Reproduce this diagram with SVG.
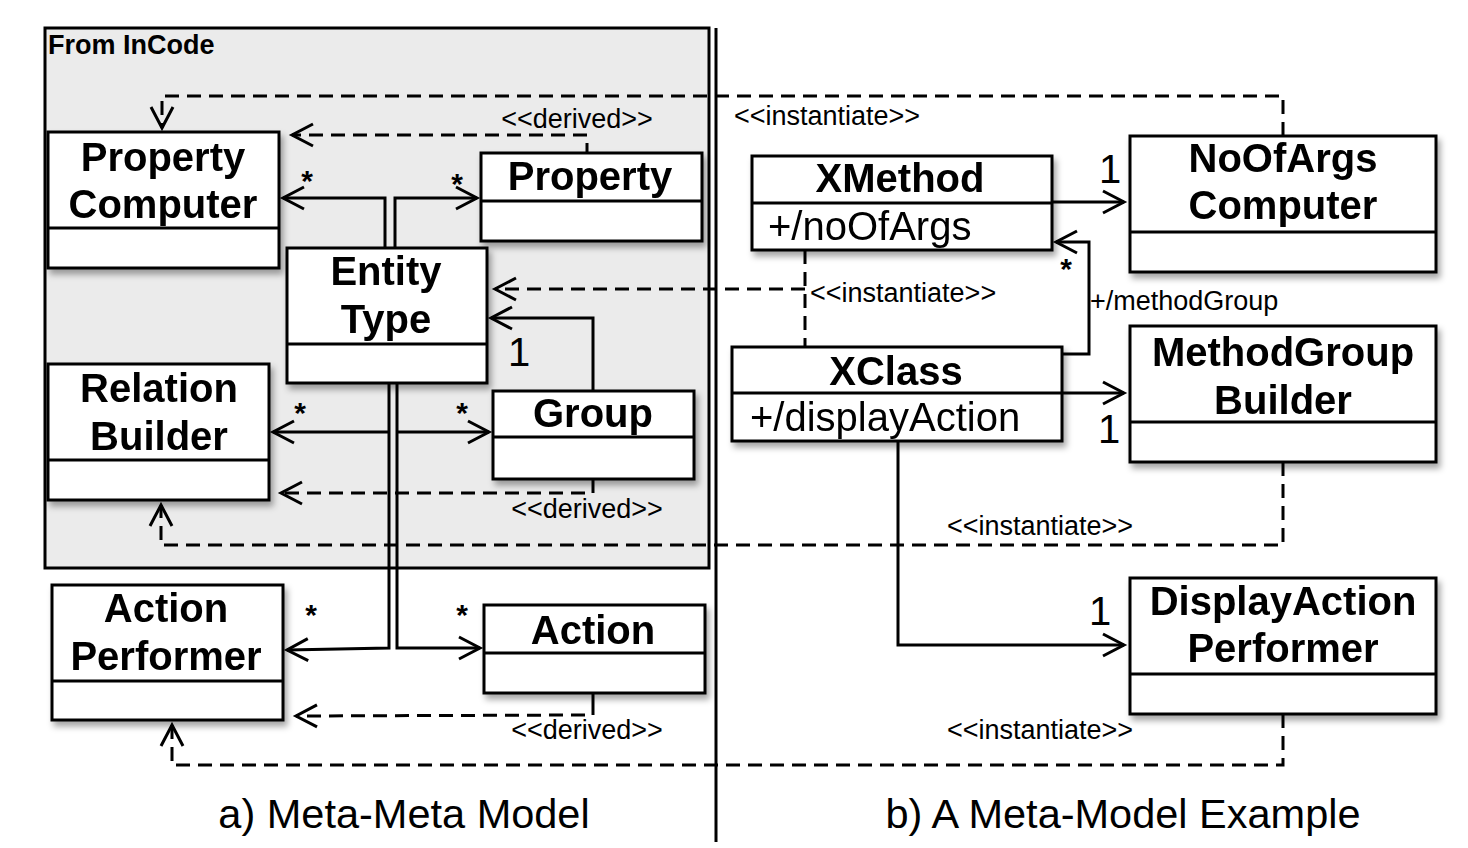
<svg xmlns="http://www.w3.org/2000/svg" width="1468" height="848" viewBox="0 0 1468 848">
<style>
.box{fill:#fff;stroke:#000;stroke-width:3}
.div{stroke:#000;stroke-width:3}
.name{font-family:"Liberation Sans",Arial,sans-serif;font-weight:bold;font-size:40px;text-anchor:middle;fill:#000}
.attr{font-family:"Liberation Sans",Arial,sans-serif;font-size:40px;fill:#000}
.lbl{font-family:"Liberation Sans",Arial,sans-serif;font-size:27px;fill:#000}
.mul{font-family:"Liberation Sans",Arial,sans-serif;font-size:40px;text-anchor:middle;fill:#000}
.star{font-family:"Liberation Sans",Arial,sans-serif;font-weight:bold;font-size:30px;text-anchor:middle;fill:#000}
.cap{font-family:"Liberation Sans",Arial,sans-serif;font-size:41.5px;text-anchor:middle;fill:#000}
.solid{fill:none;stroke:#000;stroke-width:3}
.dash{fill:none;stroke:#000;stroke-width:3;stroke-dasharray:14 8}
.node{filter:url(#sh)}
</style>
<defs>
<filter id="sh" x="-10%" y="-10%" width="130%" height="130%">
<feDropShadow dx="3" dy="5" stdDeviation="3" flood-color="#000" flood-opacity="0.35"/>
</filter>
<marker id="arr" viewBox="-24 -14 28 28" refX="0" refY="0" markerWidth="28" markerHeight="28" markerUnits="userSpaceOnUse" orient="auto">
<path d="M-21,-11 L0,0 L-21,11" fill="none" stroke="#000" stroke-width="3" stroke-dasharray="none"/>
</marker>
</defs>
<rect width="1468" height="848" fill="#fff"/>
<g id="incode">
<rect x="45" y="28" width="664" height="540" fill="#ebebeb" stroke="#000" stroke-width="3"/>
<text x="48" y="54" font-family="Liberation Sans,Arial,sans-serif" font-weight="bold" font-size="27">From InCode</text>
</g>
<line x1="716" y1="28" x2="716" y2="842" stroke="#000" stroke-width="3"/>

<g id="connectors">
<path class="solid" d="M385,248 V198 H283" marker-end="url(#arr)"/>
<path class="solid" d="M395,248 V198 H477" marker-end="url(#arr)"/>
<path class="solid" d="M389,383 V648 L287,650" marker-end="url(#arr)"/>
<path class="solid" d="M389,432 H273" marker-end="url(#arr)"/>
<path class="solid" d="M397,383 V648 H480" marker-end="url(#arr)"/>
<path class="solid" d="M397,432 H489" marker-end="url(#arr)"/>
<path class="solid" d="M593,391 V318 H491" marker-end="url(#arr)"/>
<path class="solid" d="M587,143 V153"/>
<path class="dash" d="M587,135 H292" marker-end="url(#arr)"/>
<path class="solid" d="M593,479 V493"/>
<path class="dash" d="M585,493 H281" marker-end="url(#arr)"/>
<path class="solid" d="M593,693 V715"/>
<path class="dash" d="M585,715 L296,716" marker-end="url(#arr)"/>
<path class="dash" d="M1283,136 V96 H162 V128" marker-end="url(#arr)"/>
<path class="dash" d="M805,250 V347"/>
<path class="dash" d="M805,289 H495" marker-end="url(#arr)"/>
<path class="dash" d="M1283,462 V545 H161 V505" marker-end="url(#arr)"/>
<path class="dash" d="M1283,714 V765 H172 V725" marker-end="url(#arr)"/>
<path class="solid" d="M1048,202 H1124" marker-end="url(#arr)"/>
<path class="solid" d="M1062,354 H1089 V242 H1056" marker-end="url(#arr)"/>
<path class="solid" d="M1062,393 H1124" marker-end="url(#arr)"/>
<path class="solid" d="M898,441 V645 H1124" marker-end="url(#arr)"/>
<text class="lbl" x="577" y="128" text-anchor="middle">&lt;&lt;derived&gt;&gt;</text>
<text class="lbl" x="587" y="518" text-anchor="middle">&lt;&lt;derived&gt;&gt;</text>
<text class="lbl" x="587" y="739" text-anchor="middle">&lt;&lt;derived&gt;&gt;</text>
<text class="lbl" x="827" y="125" text-anchor="middle">&lt;&lt;instantiate&gt;&gt;</text>
<text class="lbl" x="810" y="302">&lt;&lt;instantiate&gt;&gt;</text>
<text class="lbl" x="1040" y="535" text-anchor="middle">&lt;&lt;instantiate&gt;&gt;</text>
<text class="lbl" x="1040" y="739" text-anchor="middle">&lt;&lt;instantiate&gt;&gt;</text>
<text class="lbl" x="1090" y="310">+/methodGroup</text>
<text class="star" x="307" y="191">*</text>
<text class="star" x="457" y="194">*</text>
<text class="star" x="300" y="423">*</text>
<text class="star" x="462" y="423">*</text>
<text class="star" x="311" y="625">*</text>
<text class="star" x="462" y="625">*</text>
<text class="star" x="1066" y="279">*</text>
<text class="mul" x="519" y="366">1</text>
<text class="mul" x="1110" y="183">1</text>
<text class="mul" x="1109" y="443">1</text>
<text class="mul" x="1100" y="625">1</text>
</g>

<g id="PropertyComputer" class="node">
<rect class="box" x="48" y="132" width="231" height="136"/>
<line class="div" x1="48" y1="228" x2="279" y2="228"/>
<text class="name" x="163" y="171">Property</text>
<text class="name" x="163" y="218">Computer</text>
</g>
<g id="Property" class="node">
<rect class="box" x="481" y="153" width="221" height="88"/>
<line class="div" x1="481" y1="201" x2="702" y2="201"/>
<text class="name" x="590" y="190">Property</text>
</g>
<g id="EntityType" class="node">
<rect class="box" x="287" y="248" width="200" height="135"/>
<line class="div" x1="287" y1="344" x2="487" y2="344"/>
<text class="name" x="386" y="285">Entity</text>
<text class="name" x="386" y="333">Type</text>
</g>
<g id="RelationBuilder" class="node">
<rect class="box" x="48" y="364" width="221" height="136"/>
<line class="div" x1="48" y1="460" x2="269" y2="460"/>
<text class="name" x="159" y="402">Relation</text>
<text class="name" x="159" y="450">Builder</text>
</g>
<g id="Group" class="node">
<rect class="box" x="493" y="391" width="201" height="88"/>
<line class="div" x1="493" y1="437" x2="694" y2="437"/>
<text class="name" x="593" y="427">Group</text>
</g>
<g id="ActionPerformer" class="node">
<rect class="box" x="52" y="585" width="231" height="135"/>
<line class="div" x1="52" y1="681" x2="283" y2="681"/>
<text class="name" x="166" y="622">Action</text>
<text class="name" x="166" y="670">Performer</text>
</g>
<g id="Action" class="node">
<rect class="box" x="484" y="605" width="221" height="88"/>
<line class="div" x1="484" y1="653" x2="705" y2="653"/>
<text class="name" x="593" y="644">Action</text>
</g>
<g id="XMethod" class="node">
<rect class="box" x="752" y="156" width="300" height="94"/>
<line class="div" x1="752" y1="203" x2="1052" y2="203"/>
<text class="name" x="900" y="192">XMethod</text>
<text class="attr" x="768" y="240">+/noOfArgs</text>
</g>
<g id="NoOfArgsComputer" class="node">
<rect class="box" x="1130" y="136" width="306" height="136"/>
<line class="div" x1="1130" y1="232" x2="1436" y2="232"/>
<text class="name" x="1283" y="172">NoOfArgs</text>
<text class="name" x="1283" y="219">Computer</text>
</g>
<g id="XClass" class="node">
<rect class="box" x="732" y="347" width="330" height="94"/>
<line class="div" x1="732" y1="393" x2="1062" y2="393"/>
<text class="name" x="896" y="385">XClass</text>
<text class="attr" x="750" y="431">+/displayAction</text>
</g>
<g id="MethodGroupBuilder" class="node">
<rect class="box" x="1130" y="326" width="306" height="136"/>
<line class="div" x1="1130" y1="422" x2="1436" y2="422"/>
<text class="name" x="1283" y="366">MethodGroup</text>
<text class="name" x="1283" y="414">Builder</text>
</g>
<g id="DisplayActionPerformer" class="node">
<rect class="box" x="1130" y="578" width="306" height="136"/>
<line class="div" x1="1130" y1="674" x2="1436" y2="674"/>
<text class="name" x="1283" y="615">DisplayAction</text>
<text class="name" x="1283" y="662">Performer</text>
</g>

<g id="captions">
<text class="cap" x="404" y="828">a) Meta-Meta Model</text>
<text class="cap" x="1123" y="828">b) A Meta-Model Example</text>
</g>
</svg>
